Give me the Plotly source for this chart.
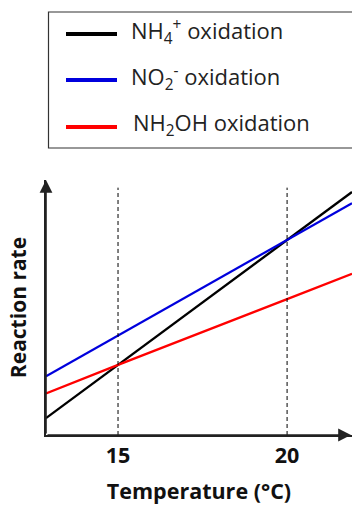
import plotly.graph_objects as go

# Data
temperature = [12.87, 15, 20, 21.92]
nh4_rate = [6.6, 27.5, 76.5, 95.3]
no2_rate = [23.0, 39.0, 76.5, 90.9]
nh2oh_rate = [16.3, 27.5, 53.3, 63.2]
series_names = ["NH<sub>4</sub><sup>+</sup> oxidation",
                "NO<sub>2</sub><sup>-</sup> oxidation",
                "NH<sub>2</sub>OH oxidation"]
series_colors = ["#000000", "#0000dd", "#ff0000"]
tick_vals = [15, 20]
tick_text = ["15", "20"]
x_range = [12.87, 21.92]
y_range = [0, 100]

W, H = 352, 510
ML, MR, MT, MB = 46, 0, 180, 75
FONT = "Open Sans"

fig = go.Figure()
for ys, name, col in zip([nh4_rate, no2_rate, nh2oh_rate], series_names, series_colors):
    fig.add_trace(go.Scatter(x=temperature, y=ys, mode="lines", name=name,
                             line=dict(color=col, width=2.3), showlegend=False,
                             cliponaxis=True))

# dashed guide lines
for tv in tick_vals:
    fig.add_shape(type="line", xref="x", yref="y", x0=tv, x1=tv, y0=0, y1=97,
                  line=dict(color="#000000", width=1, dash="4px,3px"))

# axis arrows
fig.add_annotation(xref="paper", yref="paper", x=0, y=1, ax=0, ay=255, axref="pixel",
                   ayref="pixel", showarrow=True, arrowhead=2, arrowsize=1.6,
                   arrowwidth=1.6, arrowcolor="#222222", text="", standoff=0)
fig.add_annotation(xref="paper", yref="paper", x=1, y=0, ax=-306, ay=0,
                   showarrow=True, arrowhead=2, arrowsize=1.6,
                   arrowwidth=1.6, arrowcolor="#222222", text="", standoff=0)

# legend box (manual)
def px_x(p):
    return (p - ML) / (W - ML - MR)

def px_y(p):
    return (H - MB - p) / (H - MT - MB)

fig.add_shape(type="rect", xref="paper", yref="paper",
              x0=px_x(48.5), x1=px_x(360), y0=px_y(148), y1=px_y(12),
              line=dict(color="#333333", width=1.2), fillcolor="white", layer="above")
leg_y = [34, 80, 127]
leg_text_x = [129, 129, 131]
for ly, tx, name, col in zip(leg_y, leg_text_x, series_names, series_colors):
    fig.add_shape(type="line", xref="paper", yref="paper",
                  x0=px_x(66), x1=px_x(117), y0=px_y(ly), y1=px_y(ly),
                  line=dict(color=col, width=4), layer="above")
    fig.add_annotation(xref="paper", yref="paper", x=px_x(tx), y=px_y(ly - 3),
                       text=name, showarrow=False, xanchor="left", yanchor="middle",
                       font=dict(family=FONT, size=22, color="#222222"))

fig.update_layout(
    width=W, height=H,
    margin=dict(l=ML, r=MR, t=MT, b=MB),
    paper_bgcolor="white", plot_bgcolor="white",
    xaxis=dict(range=x_range, tickvals=tick_vals, ticktext=tick_text,
               showgrid=False, zeroline=False, showline=True, linecolor="#222222",
               linewidth=2, ticks="", ticklen=0,
               tickfont=dict(family=FONT, size=21.5, color="#111111", weight="bold"),
               title=dict(text="<b>Temperature (°C)</b>", standoff=16,
                          font=dict(family=FONT, size=21.5, color="#111111"))),
    yaxis=dict(range=y_range, showticklabels=False, showgrid=False, zeroline=False,
               showline=True, linecolor="#222222", linewidth=2, ticks="",
               title=dict(text="<b>Reaction rate</b>", standoff=12,
                          font=dict(family=FONT, size=21, color="#111111"))),
)

fig.write_html("out.html")
